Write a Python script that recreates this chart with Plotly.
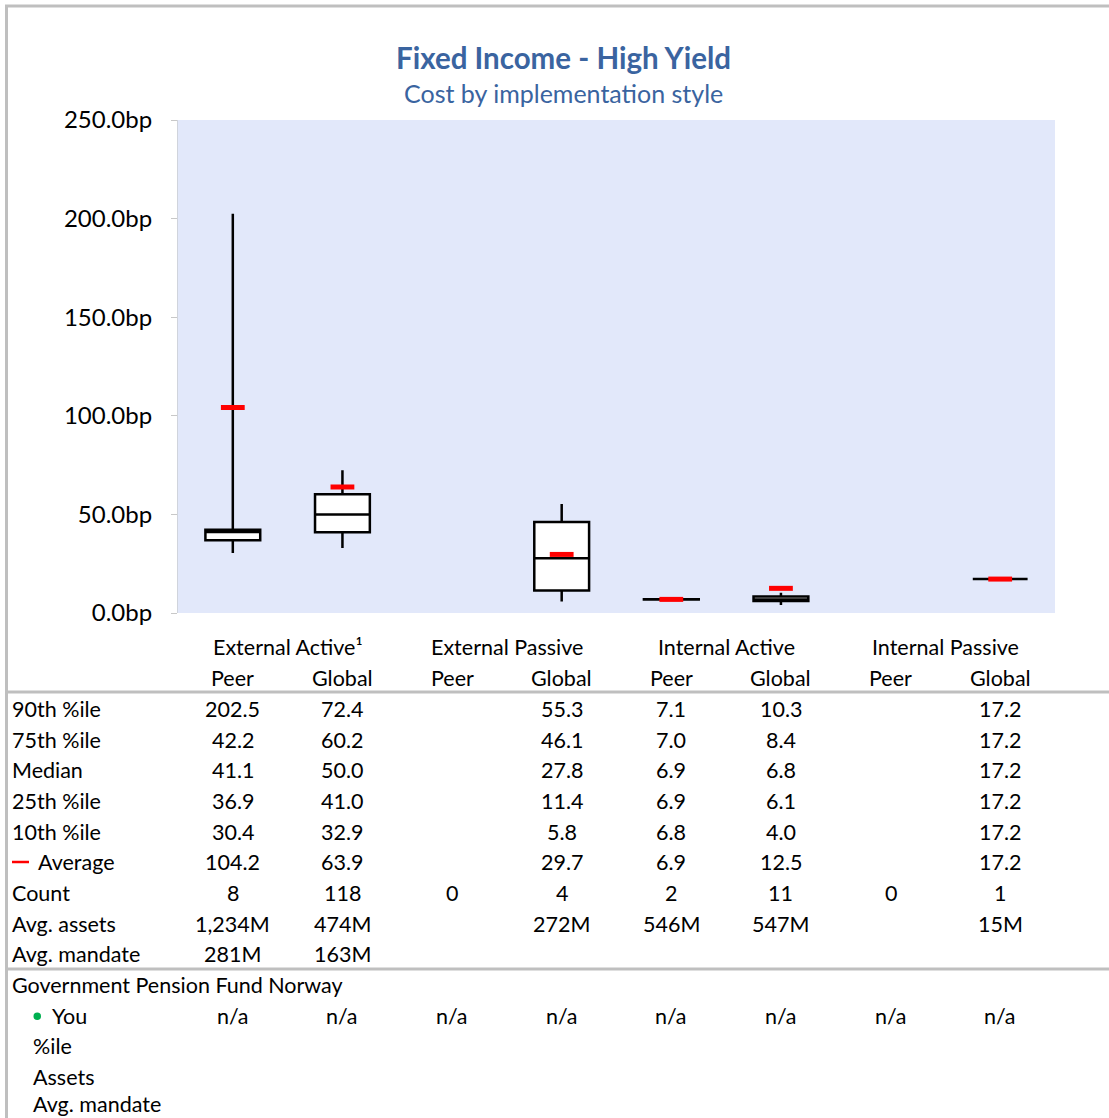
import plotly.graph_objects as go

# Columns: four implementation styles, each with a Peer and a Global universe
styles = ["External Active¹", "External Passive", "Internal Active", "Internal Passive"]
universes = ["Peer", "Global"] * 4

# Cost distribution in basis points (None = no data for that universe)
p90 = [202.5, 72.4, None, 55.3, 7.1, 10.3, None, 17.2]
p75 = [42.2, 60.2, None, 46.1, 7.0, 8.4, None, 17.2]
median = [41.1, 50.0, None, 27.8, 6.9, 6.8, None, 17.2]
p25 = [36.9, 41.0, None, 11.4, 6.9, 6.1, None, 17.2]
p10 = [30.4, 32.9, None, 5.8, 6.8, 4.0, None, 17.2]
average = [104.2, 63.9, None, 29.7, 6.9, 12.5, None, 17.2]
count = [8, 118, 0, 4, 2, 11, 0, 1]
avg_assets = ["1,234M", "474M", "", "272M", "546M", "547M", "", "15M"]
avg_mandate = ["281M", "163M", "", "", "", "", "", ""]
fund_name = "Government Pension Fund Norway"
you = ["n/a"] * 8

W, H = 1109, 1118
L, R, T, B = 178, 1055, 120, 613  # plot area edges in pixels

FONT = "Lato, 'Open Sans', sans-serif"
BLUE = "#3A64A0"
GREY = "#BFBFBF"
TS = 21.5  # table text size


def px_x(px):
    return (px - L) / (R - L)


def px_y(py):
    return (B - py) / (B - T)


has = [i for i, v in enumerate(median) if v is not None]

fig = go.Figure()

fig.add_trace(go.Box(
    x=has,
    q1=[p25[i] for i in has],
    median=[median[i] for i in has],
    q3=[p75[i] for i in has],
    lowerfence=[p10[i] for i in has],
    upperfence=[p90[i] for i in has],
    width=0.5,
    whiskerwidth=0,
    fillcolor="white",
    line=dict(color="black", width=2.5),
    boxpoints=False,
    hoverinfo="skip",
    showlegend=False,
))

fig.add_trace(go.Scatter(
    x=has,
    y=[average[i] for i in has],
    mode="markers",
    marker=dict(symbol="line-ew", size=17, line=dict(color="#FF0000", width=5)),
    hoverinfo="skip",
    showlegend=False,
))

ann = []


def txt(text, x, y, xref="x", xanchor="center", size=TS, color="black", bold=False):
    ann.append(dict(
        text=f"<b>{text}</b>" if bold else text,
        x=x, y=px_y(y), xref=xref, yref="paper",
        xanchor=xanchor, yanchor="middle", showarrow=False,
        font=dict(family=FONT, size=size, color=color),
    ))


# Titles
txt("Fixed Income - High Yield", px_x(563), 57, xref="paper", size=29.5, color=BLUE, bold=True)
txt("Cost by implementation style", px_x(563), 93, xref="paper", size=25, color=BLUE)

# Column headers
for g, name in enumerate(styles):
    txt(name, 2 * g + 0.5, 647)
for i, u in enumerate(universes):
    txt(u, i, 678)


def fmt(v):
    return "" if v is None else f"{v:.1f}"


rows = [
    ("90th %ile", [fmt(v) for v in p90]),
    ("75th %ile", [fmt(v) for v in p75]),
    ("Median", [fmt(v) for v in median]),
    ("25th %ile", [fmt(v) for v in p25]),
    ("10th %ile", [fmt(v) for v in p10]),
    ("Average", [fmt(v) for v in average]),
    ("Count", [str(c) for c in count]),
    ("Avg. assets", avg_assets),
    ("Avg. mandate", avg_mandate),
]
LX = 10  # left edge of row labels
row_y0, row_dy = 709, 30.65
for r, (label, vals) in enumerate(rows):
    y = row_y0 + r * row_dy
    if label == "Average":
        txt(label, px_x(36), y, xref="paper", xanchor="left")
    else:
        txt(label, px_x(LX), y, xref="paper", xanchor="left")
    for i, v in enumerate(vals):
        if v:
            txt(v, i, y)

txt(fund_name, px_x(LX), 985, xref="paper", xanchor="left")
txt("You", px_x(50), 1016, xref="paper", xanchor="left")
for i, v in enumerate(you):
    txt(v, i, 1016)
txt("%ile", px_x(31), 1046, xref="paper", xanchor="left")
txt("Assets", px_x(31), 1077, xref="paper", xanchor="left")
txt("Avg. mandate", px_x(31), 1104, xref="paper", xanchor="left")

# Frame, table rules and the legend keys for the average marker and the fund
shapes = [
    dict(type="line", xref="paper", yref="paper", x0=px_x(5), x1=px_x(W + 5),
         y0=px_y(6), y1=px_y(6), line=dict(color=GREY, width=3)),
    dict(type="line", xref="paper", yref="paper", x0=px_x(6.5), x1=px_x(6.5),
         y0=px_y(5), y1=px_y(H + 5), line=dict(color=GREY, width=3)),
    dict(type="line", xref="paper", yref="paper", x0=px_x(8), x1=px_x(W + 5),
         y0=px_y(692), y1=px_y(692), line=dict(color=GREY, width=3)),
    dict(type="line", xref="paper", yref="paper", x0=px_x(8), x1=px_x(W + 5),
         y0=px_y(969), y1=px_y(969), line=dict(color=GREY, width=3)),
    dict(type="line", xref="paper", yref="paper", x0=px_x(12), x1=px_x(29),
         y0=px_y(862), y1=px_y(862), line=dict(color="#FF0000", width=2.5)),
    dict(type="circle", xref="paper", yref="paper", x0=px_x(33.5), x1=px_x(41),
         y0=px_y(1012.5), y1=px_y(1020), fillcolor="#00B050", line=dict(width=0)),
]

fig.update_layout(
    width=W, height=H,
    margin=dict(l=L, r=W - R, t=T, b=H - B, pad=0),
    paper_bgcolor="white",
    plot_bgcolor="#E2E8FA",
    font=dict(family=FONT, color="black"),
    annotations=ann,
    shapes=shapes,
    showlegend=False,
    xaxis=dict(range=[-0.5, 7.5], showticklabels=False, showgrid=False,
               zeroline=False, ticks="", showline=False, fixedrange=True),
    yaxis=dict(range=[0, 250], dtick=50, tickformat=".1f", ticksuffix="bp",
               showgrid=False, zeroline=False, showline=True, linecolor="#D0D4DC",
               linewidth=1, ticks="outside", ticklen=6, tickcolor="#C8C8C8",
               ticklabelstandoff=14,
               tickfont=dict(family=FONT, size=24, color="black"), fixedrange=True),
)

fig.write_html("out.html")
